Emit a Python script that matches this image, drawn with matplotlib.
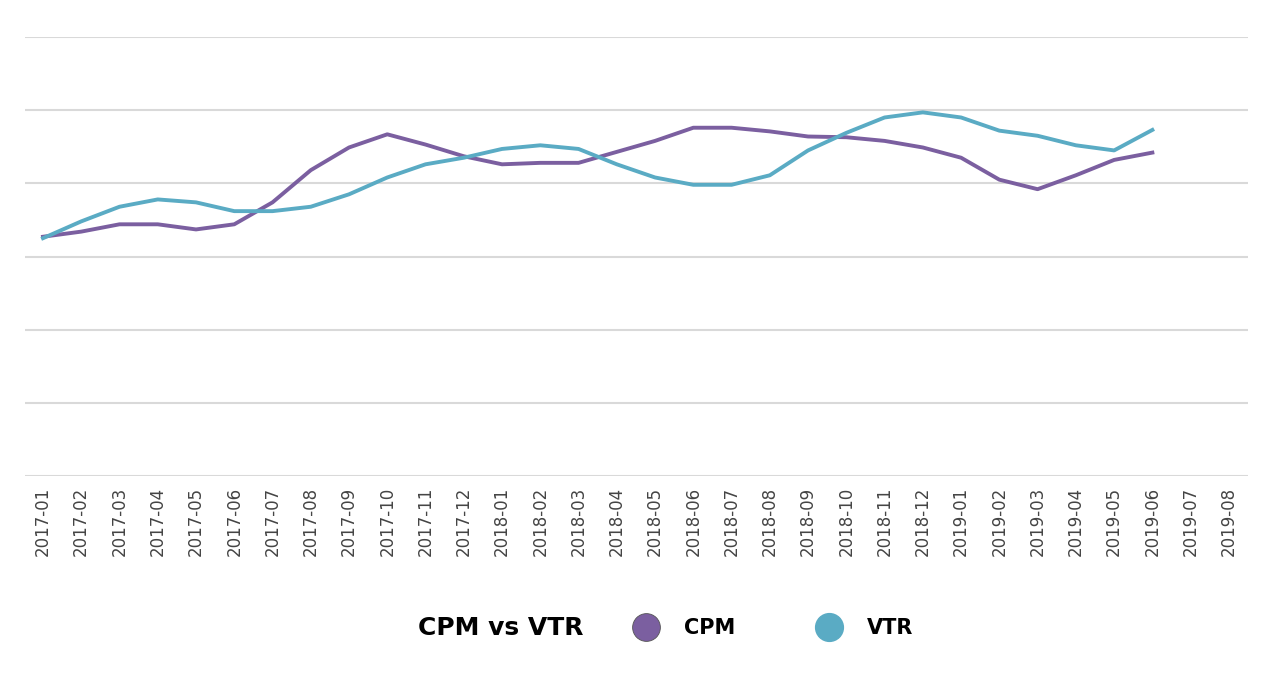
import matplotlib
matplotlib.use("Agg")
import matplotlib.pyplot as plt
from matplotlib.lines import Line2D

months = [f"{y}-{m:02d}" for y in (2017, 2018, 2019) for m in range(1, 13)][:32]
cpm = [3.27,3.34,3.44,3.44,3.37,3.44,3.74,4.18,4.49,4.67,4.53,4.37,4.26,4.28,4.28,4.43,4.58,4.76,4.76,4.71,4.64,4.63,4.58,4.49,4.35,4.05,3.92,4.11,4.32,4.42]
vtr = [3.25,3.48,3.68,3.78,3.74,3.62,3.62,3.68,3.85,4.08,4.26,4.35,4.47,4.52,4.47,4.26,4.08,3.98,3.98,4.11,4.45,4.69,4.90,4.97,4.90,4.72,4.65,4.52,4.45,4.73]
c_cpm, c_vtr = "#7b5fa0", "#5aabc4"

fig = plt.figure(figsize=(12.8, 6.73), dpi=100)
ax = fig.add_axes([25/1280, 1-476/673, 1223/1280, 439/673])
ax.plot(range(len(cpm)), cpm, color=c_cpm, lw=2.8)
ax.plot(range(len(vtr)), vtr, color=c_vtr, lw=2.8)
ax.set_ylim(0, 6)
ax.set_xlim(-0.47, 31.5)
ax.set_yticks(range(7))
ax.set_yticklabels([])
ax.tick_params(axis="y", length=0)
ax.grid(axis="y", color="#d9d9d9", lw=1.5)
ax.set_axisbelow(True)
for s in ax.spines.values():
    s.set_visible(False)
ax.set_xticks(range(32))
ax.set_xticklabels(months, rotation=90, fontsize=12, color="#444444")
ax.tick_params(axis="x", length=0, pad=8)

handles = [Line2D([], [], ls="", marker="o", ms=20, mfc=c_cpm, mec="#555555", mew=0.6),
           Line2D([], [], ls="", marker="o", ms=20, mfc=c_vtr, mec=c_vtr)]
leg = fig.legend(handles, ["CPM", "VTR"], loc="center", bbox_to_anchor=(0.52, 1-628/673),
                 ncol=2, frameon=False, title="CPM vs VTR", columnspacing=3.5,
                 prop={"weight": "bold", "size": 15}, handletextpad=0.8)
leg.get_title().set_fontweight("bold")
leg.get_title().set_fontsize(18)
leg._legend_box.align = "left"
# put title to the left of entries
from matplotlib.offsetbox import HPacker
box = leg._legend_box
box._children = [HPacker(children=box._children[::1], align="center", pad=0, sep=30)]
fig.savefig("out.png")
